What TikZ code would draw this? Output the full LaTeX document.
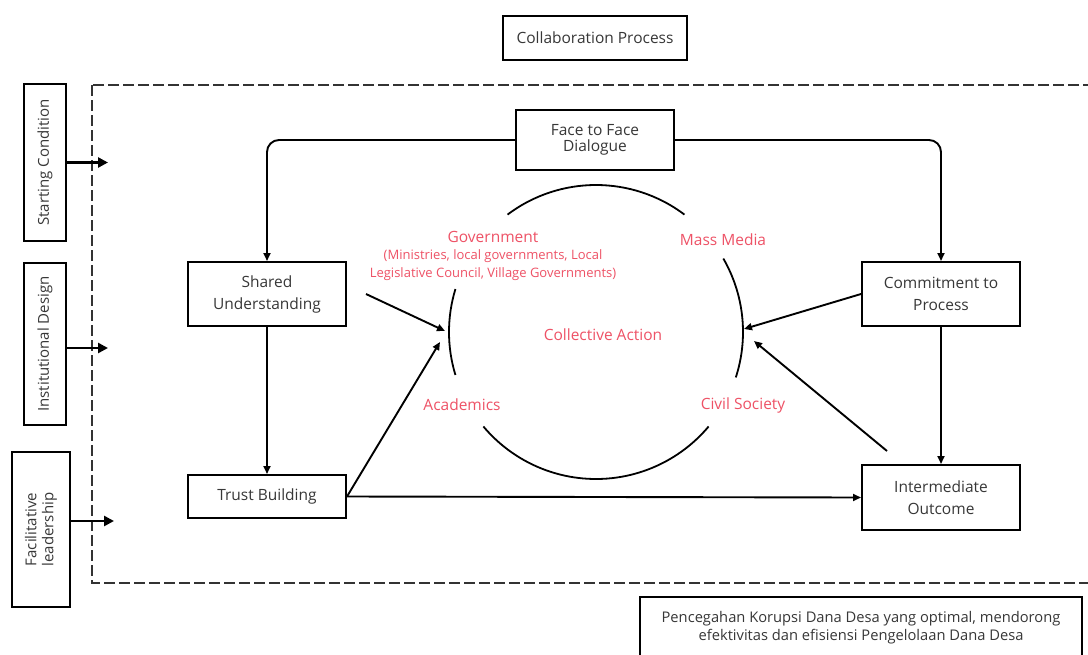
\documentclass[tikz,border=0pt]{standalone}
\usepackage{xcolor}
\usepackage{fontspec}
\setmainfont{Open Sans}
\usepackage{tikz}
\usetikzlibrary{calc,arrows.meta}
\definecolor{actor}{RGB}{238,82,102}
\definecolor{ink}{RGB}{55,55,55}

\begin{document}
\begin{tikzpicture}[x=1pt,y=-1pt]
                    \tikzstyle{every node}+=[inner sep=0pt]
                    \tikzstyle{box}=[draw=black, line width=2pt, align=center, text=ink, font=\fontsize{15.5}{22}\selectfont, minimum width=158pt]
                    \tikzstyle{sidebox}=[box, rotate=90, font=\fontsize{15}{17}\selectfont]
                    \tikzstyle{arr}=[black, line width=1.9pt, -{Triangle[length=8pt,width=7pt]}]
                    \tikzstyle{sidearr}=[black, line width=2.8pt, -{Triangle[length=10pt,width=10pt]}]
                    \tikzstyle{actorlbl}=[text=actor, align=center, font=\fontsize{15.5}{18}\selectfont]
                    \useasboundingbox (0,0) rectangle (1088,654);
                    \fill[white] (0,0) rectangle (1088,654);
                    \draw[line width=2.2pt, dash pattern=on 11pt off 4pt, black!80] (92,85) rectangle (1100,583);
                    \node[box, minimum width=184pt, minimum height=44pt] (cp) at (595,38) {Collaboration Process};
                    \node[box, minimum height=60pt, font=\fontsize{15.5}{16.5}\selectfont] (ftf) at (595,140) {Face to Face\\Dialogue};
                    \node[box, minimum height=64pt] (su) at (267,294) {Shared\\Understanding};
                    \node[box, minimum height=43pt] (tb) at (267,496.5) {Trust Building};
                    \node[box, minimum height=64pt] (cm) at (941,294) {Commitment to\\Process};
                    \node[box, minimum height=65pt] (io) at (941,497.5) {Intermediate\\Outcome};
                    \node[sidebox, minimum width=157pt, minimum height=42pt] (sc) at (45,162.5) {Starting Condition};
                    \node[sidebox, minimum width=162pt, minimum height=42pt] (id) at (45,344) {Institutional Design};
                    \node[sidebox, minimum width=155pt, minimum height=58pt] (fl) at (41,529.5) {Facilitative\\leadership};
                    \node[box, anchor=north, minimum width=442pt, minimum height=62pt, font=\fontsize{14.7}{18}\selectfont] (pk) at (861,596) {Pencegahan Korupsi Dana Desa yang optimal, mendorong\\efektivitas dan efisiensi Pengelolaan Dana Desa};
                    \coordinate (ca) at (596,332);
                    \draw[line width=1.8pt] ([shift={(53:147pt)}]ca) arc[start angle=53, end angle=127, radius=147pt];
                    \draw[line width=1.8pt] ([shift={(163:147pt)}]ca) arc[start angle=163, end angle=197, radius=147pt];
                    \draw[line width=1.8pt] ([shift={(220:147pt)}]ca) arc[start angle=220, end angle=320, radius=147pt];
                    \draw[line width=1.8pt] ([shift={(-18:147pt)}]ca) arc[start angle=-18, end angle=30, radius=147pt];
                    \node[actorlbl] (gov) at (493,237) {Government};
                    \node[actorlbl, font=\fontsize{13}{17.5}\selectfont] (govd) at (493,265) {(Ministries, local governments, Local\\Legislative Council, Village Governments)};
                    \node[actorlbl] (mm) at (723,240) {Mass Media};
                    \node[actorlbl] (ca2) at (603,335) {Collective Action};
                    \node[actorlbl] (ac) at (462,405) {Academics};
                    \node[actorlbl] (cs) at (743,405) {Civil Society};
                    \coordinate (gl) at (445,331);
                    \coordinate (al) at (440,342);
                    \coordinate (cr) at (744,329);
                    \coordinate (mr) at (754,341);
                    \draw[arr, rounded corners=12pt] (ftf.west) -| (su.north);
                    \draw[arr, rounded corners=12pt] (ftf.east) -| (cm.north);
                    \draw[arr] (su) -- (tb);
                    \draw[arr] (cm) -- (io);
                    \draw[arr] (tb.east) -- (io.west);
                    \draw[arr] ([xshift=19pt]su.east) -- (gl);
                    \draw[arr] (tb.east) -- (al);
                    \draw[arr] (cm.west) -- (cr);
                    \draw[arr] ([xshift=-54pt,yshift=13pt]io.north) -- (mr);
                    \draw[sidearr] (sc.south) -- ++(41,0);
                    \draw[sidearr] ([yshift=-4pt]id.south) -- ++(41,0);
                    \draw[sidearr] ([yshift=8.5pt]fl.south) -- ++(43,0);
                \end{tikzpicture}
\end{document}
